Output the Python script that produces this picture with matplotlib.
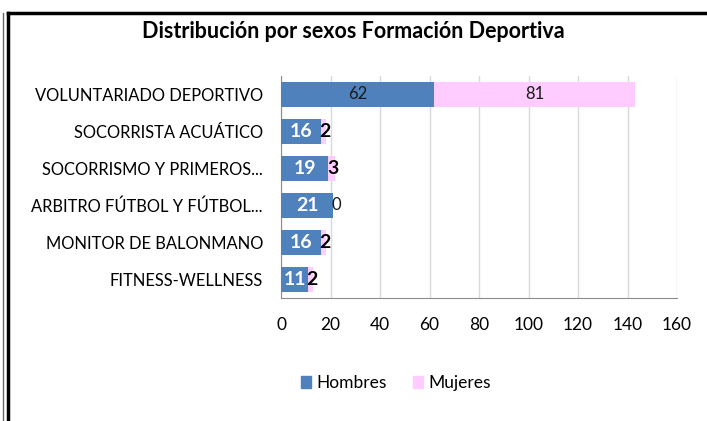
import matplotlib.pyplot as plt
from matplotlib.lines import Line2D
from matplotlib.patches import Patch

plt.rcParams['font.family'] = ['Lato', 'DejaVu Sans']

# data, top to bottom as shown
categorias = ['VOLUNTARIADO DEPORTIVO', 'SOCORRISTA ACUÁTICO', 'SOCORRISMO Y PRIMEROS...',
              'ARBITRO FÚTBOL Y FÚTBOL...', 'MONITOR DE BALONMANO', 'FITNESS-WELLNESS']
hombres = [62, 16, 19, 21, 16, 11]
mujeres = [81, 2, 3, 0, 2, 2]
xticks = [0, 20, 40, 60, 80, 100, 120, 140, 160]

azul = '#4F81BD'
rosa = '#FFCCFF'

fig = plt.figure(figsize=(7.07, 4.21), dpi=100)
ax = fig.add_axes([0.3975, 0.2922, 0.5601, 0.5273])

y = list(range(len(categorias)))
ax.barh(y, hombres, height=0.67, color=azul, label='Hombres', zorder=3)
ax.barh(y, mujeres, left=hombres, height=0.67, color=rosa, label='Mujeres', zorder=3)

# value labels (styled like the original: big bars plain, small ones bold)
for i, (h, m) in enumerate(zip(hombres, mujeres)):
    if h > 40:
        ax.text(h / 2, i, str(h), ha='center', va='center', fontsize=12, color='#1a1a1a', zorder=4)
    else:
        ax.text(h / 2, i, str(h), ha='center', va='center', fontsize=14,
                fontweight='bold', color='white', zorder=4)
    if m > 40:
        ax.text(h + m / 2, i, str(m), ha='center', va='center', fontsize=12, color='#1a1a1a', zorder=4)
    elif m == 0:
        ax.text(h + 1.5, i, str(m), ha='center', va='center', fontsize=12, color='#1a1a1a', zorder=4)
    else:
        ax.text(h + m / 2 + 0.6, i, str(m), ha='center', va='center', fontsize=14,
                fontweight='bold', color='black', zorder=4)

ax.set_ylim(len(categorias) - 0.5, -0.5)
ax.set_xlim(0, 160)
ax.set_xticks(xticks)
ax.set_xticklabels([str(t) for t in xticks], fontsize=12.5)
ax.set_yticks(y)
ax.set_yticklabels(categorias, fontsize=11.9)
ax.tick_params(axis='x', length=0, pad=14)
ax.tick_params(axis='y', length=0, pad=13)
ax.grid(axis='x', color='#D9D9D9', linewidth=1, zorder=0)
for s in ['top', 'right']:
    ax.spines[s].set_visible(False)
ax.spines['bottom'].set_color('#8C8C8C')
ax.spines['left'].set_color('#8C8C8C')

fig.text(0.5, 0.925, 'Distribución por sexos Formación Deportiva', ha='center', va='center',
         fontsize=15.5, fontweight='bold')

handles = [Patch(color=azul, label='Hombres'), Patch(color=rosa, label='Mujeres')]
fig.legend(handles=handles, loc='center', bbox_to_anchor=(0.56, 0.09), ncol=2, frameon=False,
           fontsize=12.5, handlelength=0.6, handleheight=0.6, handletextpad=0.3, columnspacing=1.5)

# page frame lines
fig.add_artist(Line2D([8 / 707, 8 / 707], [0, 1 - 13 / 421], color='black', linewidth=2.5))
fig.add_artist(Line2D([8 / 707, 1], [1 - 13 / 421, 1 - 13 / 421], color='black', linewidth=2.5))
fig.add_artist(Line2D([2.5 / 707, 2.5 / 707], [0, 1 - 13 / 421], color='#666666', linewidth=1))

fig.savefig('out.png', dpi=100)
